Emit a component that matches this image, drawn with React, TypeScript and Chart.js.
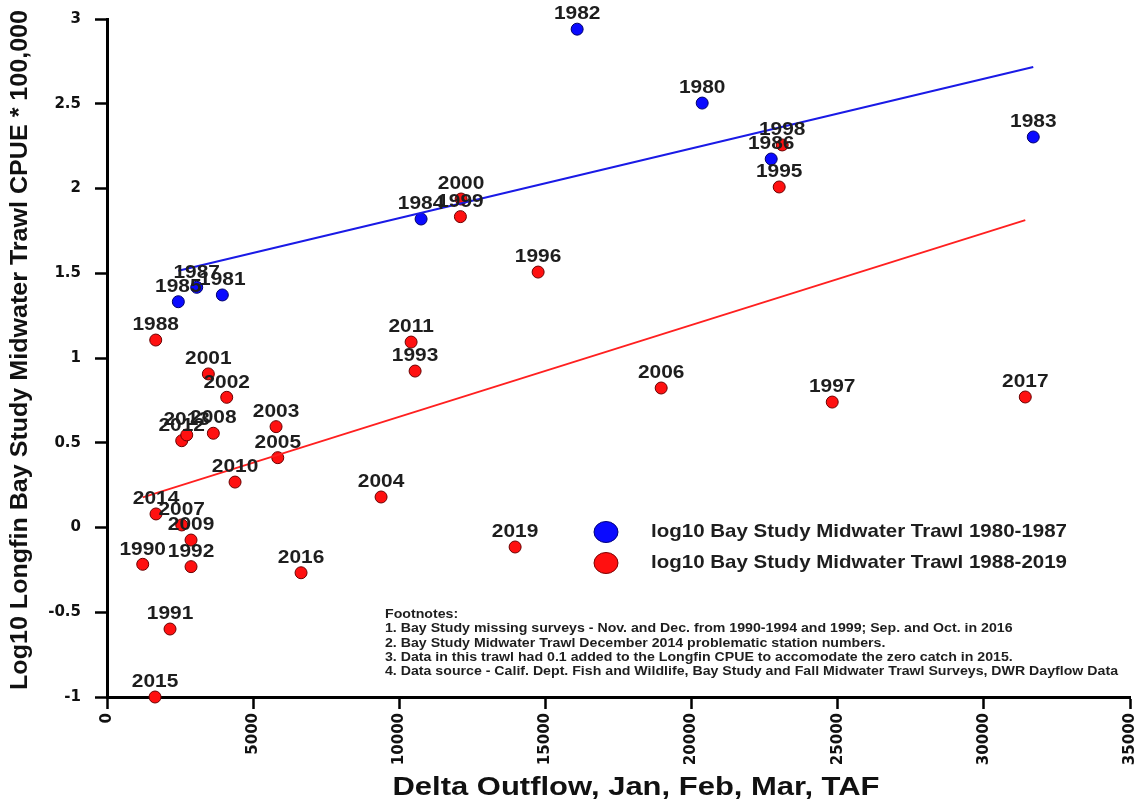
import React, { useEffect, useRef } from 'react';
import { Chart, registerables } from 'chart.js';

Chart.register(...registerables);

// 1980-1987 series (blue)
const blueYears = ['1980', '1981', '1982', '1983', '1984', '1985', '1986', '1987'];
const blueX = [20363, 3946, 16085, 31690, 10746, 2440, 22724, 3070];
const blueY = [2.504, 1.372, 2.94, 2.304, 1.82, 1.332, 2.174, 1.417];

// 1988-2019 series (red)
const redYears = ['1988', '1990', '1991', '1992', '1993', '1995', '1996', '1997', '1998', '1999', '2000', '2001', '2002', '2003', '2004', '2005', '2006', '2007', '2008', '2009', '2010', '2011', '2012', '2013', '2014', '2015', '2016', '2017', '2019'];
const redX = [1667, 1222, 2156, 2875, 10541, 22998, 14750, 24812, 23101, 12091, 12115, 3467, 4096, 5784, 9377, 5842, 18960, 2556, 3638, 2875, 4381, 10404, 2556, 2728, 1677, 1643, 6639, 31417, 13963];
const redY = [1.106, -0.217, -0.599, -0.231, 0.923, 2.009, 1.507, 0.74, 2.257, 1.834, 1.938, 0.906, 0.768, 0.595, 0.18, 0.412, 0.823, 0.015, 0.556, -0.074, 0.268, 1.094, 0.512, 0.546, 0.08, -1.0, -0.267, 0.77, -0.115];

// Trend lines (end points)
const blueTrendX = [2440, 31690];
const blueTrendY = [1.515, 2.717];
const redTrendX = [1222, 31417];
const redTrendY = [0.178, 1.814];

// Axis
const xMin = 0, xMax = 35000, xStep = 5000;
const yMin = -1, yMax = 3, yStep = 0.5;

const xTitle = 'Delta Outflow, Jan, Feb, Mar, TAF';
const yTitle = 'Log10 Longfin Bay Study Midwater Trawl CPUE * 100,000';
const legendLabels = ['log10 Bay Study Midwater Trawl 1980-1987', 'log10 Bay Study Midwater Trawl 1988-2019'];
const footnotes = [
  'Footnotes:',
  '1. Bay Study missing surveys - Nov. and Dec. from 1990-1994 and 1999; Sep. and Oct. in 2016',
  '2. Bay Study Midwater Trawl December 2014 problematic station numbers.',
  '3. Data in this trawl had 0.1 added to the Longfin CPUE to accomodate the zero catch in 2015.',
  '4. Data source - Calif. Dept. Fish and Wildlife, Bay Study and Fall Midwater Trawl Surveys, DWR Dayflow Data',
];

const FONT = '"Liberation Sans", Arial, Helvetica, sans-serif';
const WIDE = '"DejaVu Sans", "Liberation Sans", Arial, sans-serif';
const BLUE = '#0a0aff';
const RED = '#ff1010';
const TXT = '#1e1e1e';

const zip = (xs: number[], ys: number[]) => xs.map((x, i) => ({ x, y: ys[i] }));

// draw text stretched horizontally by sx (the reference image text is stretched)
function drawStretched(ctx: CanvasRenderingContext2D, text: string, x: number, y: number, sx: number) {
  ctx.save();
  ctx.translate(x, y);
  ctx.scale(sx, 1);
  ctx.fillText(text, 0, 0);
  ctx.restore();
}

const annotPlugin = {
  id: 'annot',
  afterDatasetsDraw(chart: any) {
    const ctx = chart.ctx as CanvasRenderingContext2D;
    const xs = chart.scales.x;
    const ys = chart.scales.y;
    ctx.save();
    // year labels
    ctx.font = `bold 19px ${FONT}`;
    ctx.fillStyle = TXT;
    ctx.textAlign = 'center';
    ctx.textBaseline = 'middle';
    const labSx = 46.5 / ctx.measureText('1982').width;
    const groups = [
      { years: blueYears, x: blueX, y: blueY },
      { years: redYears, x: redX, y: redY },
    ];
    groups.forEach((g) => {
      g.years.forEach((yr, i) => {
        drawStretched(ctx, yr, xs.getPixelForValue(g.x[i]), ys.getPixelForValue(g.y[i]) - 15, labSx);
      });
    });

    // legend
    const lx = 606;
    const rows = [532, 563];
    const fills = [BLUE, RED];
    const strokes = ['#00007a', '#7a0000'];
    ctx.font = `bold 19px ${FONT}`;
    const legSx = 416 / ctx.measureText(legendLabels[0]).width;
    rows.forEach((ry, i) => {
      ctx.beginPath();
      ctx.ellipse(lx, ry, 12, 10.5, 0, 0, Math.PI * 2);
      ctx.fillStyle = fills[i];
      ctx.fill();
      ctx.lineWidth = 1;
      ctx.strokeStyle = strokes[i];
      ctx.stroke();
      ctx.fillStyle = TXT;
      ctx.textAlign = 'left';
      ctx.textBaseline = 'middle';
      drawStretched(ctx, legendLabels[i], 651, ry, legSx);
    });

    // footnotes
    ctx.font = `bold 12px ${FONT}`;
    ctx.fillStyle = TXT;
    ctx.textAlign = 'left';
    ctx.textBaseline = 'middle';
    const fnSx = 733 / ctx.measureText(footnotes[4]).width;
    footnotes.forEach((t, i) => {
      drawStretched(ctx, t, 385, 615 + i * 14.1, fnSx);
    });

    // axis titles
    ctx.fillStyle = '#111';
    ctx.font = `bold 26px ${FONT}`;
    ctx.textAlign = 'center';
    ctx.textBaseline = 'middle';
    drawStretched(ctx, xTitle, 636, 788, 487 / ctx.measureText(xTitle).width);

    ctx.save();
    ctx.translate(21, 350);
    ctx.rotate(-Math.PI / 2);
    ctx.font = `bold 23px ${FONT}`;
    const ySx = 680 / ctx.measureText(yTitle).width;
    drawStretched(ctx, yTitle, 0, 0, ySx);
    ctx.restore();

    ctx.restore();
  },
};

export default function App() {
  const ref = useRef<HTMLCanvasElement | null>(null);

  useEffect(() => {
    if (!ref.current) return;
    const chart = new Chart(ref.current, {
      type: 'scatter',
      data: {
        datasets: [
          {
            type: 'line',
            data: zip(blueTrendX, blueTrendY),
            borderColor: '#1a1ae6',
            borderWidth: 2,
            pointRadius: 0,
            showLine: true,
            fill: false,
            order: 0,
            clip: false,
          } as any,
          {
            type: 'line',
            data: zip(redTrendX, redTrendY),
            borderColor: '#ff2020',
            borderWidth: 1.8,
            pointRadius: 0,
            showLine: true,
            fill: false,
            order: 0,
            clip: false,
          } as any,
          {
            data: zip(redX, redY),
            backgroundColor: RED,
            borderColor: '#6a0000',
            borderWidth: 1,
            pointRadius: 6,
            order: 1,
            clip: false,
          },
          {
            data: zip(blueX, blueY),
            backgroundColor: BLUE,
            borderColor: '#00006a',
            borderWidth: 1,
            pointRadius: 6,
            order: 2,
            clip: false,
          },
        ],
      },
      options: {
        responsive: false,
        animation: false,
        layout: { padding: { top: 19, right: 9, bottom: 0, left: 0 } },
        plugins: {
          legend: { display: false },
          tooltip: { enabled: false },
        },
        scales: {
          x: {
            type: 'linear',
            min: xMin,
            max: xMax,
            afterFit: (s: any) => { s.height = 106; s.paddingLeft = 0; s.paddingRight = 0; },
            ticks: {
              stepSize: xStep,
              minRotation: 90,
              maxRotation: 90,
              padding: 4,
              color: '#111',
              font: { family: WIDE, size: 15, weight: 'bold' },
              callback: (v: any) => String(v),
            },
            grid: {
              drawOnChartArea: false,
              drawTicks: true,
              tickLength: 12,
              tickWidth: 2.5,
              tickColor: '#000',
            },
            border: { display: true, width: 3, color: '#000' },
            title: { display: false },
          },
          y: {
            type: 'linear',
            min: yMin,
            max: yMax,
            afterFit: (s: any) => { s.width = 107; s.paddingTop = 0; s.paddingBottom = 0; },
            ticks: {
              stepSize: yStep,
              padding: 14,
              color: '#111',
              font: { family: WIDE, size: 15, weight: 'bold' },
              callback: (v: any) => String(Math.round(Number(v) * 10) / 10),
            },
            grid: {
              drawOnChartArea: false,
              drawTicks: true,
              tickLength: 12,
              tickWidth: 2.5,
              tickColor: '#000',
            },
            border: { display: true, width: 3, color: '#000' },
            title: { display: false },
          },
        },
      } as any,
      plugins: [annotPlugin],
    });
    return () => chart.destroy();
  }, []);

  return (
    <div style={{ position: 'absolute', left: 0, top: 0, width: 1139, height: 803, background: '#fff' }}>
      <canvas ref={ref} width={1139} height={803} style={{ display: 'block' }} />
    </div>
  );
}
